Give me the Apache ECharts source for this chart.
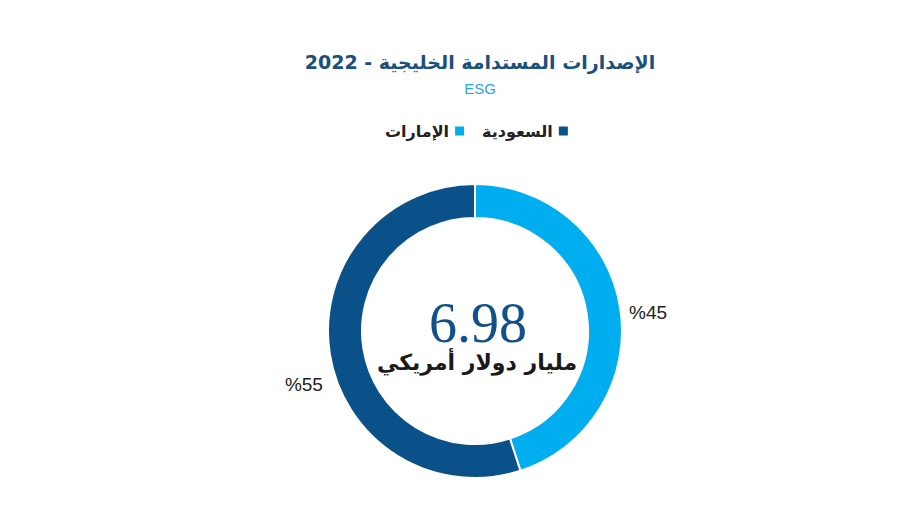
<!DOCTYPE html>
<html lang="ar">
<head>
<meta charset="utf-8">
<script src="https://cdn.jsdelivr.net/npm/echarts@6/dist/echarts.min.js"></script>
<style>
  html, body { margin: 0; padding: 0; background: #fff; }
  #chart { width: 900px; height: 507px; }
</style>
</head>
<body>
<div id="chart"></div>
<script>
// data
const countries = ["الإمارات", "السعودية"];
const shares = [45, 55];
const sliceColors = ["#00adef", "#0b5189"];
const totalValue = "6.98";
const totalUnit = "مليار دولار أمريكي";

const ARABIC_FONT = "DejaVu Sans";
const CX = 475;
const CY = 331;

const chart = echarts.init(document.getElementById("chart"), null, {
  renderer: "svg",
  width: 900,
  height: 507
});

chart.setOption({
  animation: false,
  title: [
    {
      text: "الإصدارات المستدامة الخليجية - 2022",
      left: CX,
      top: 47,
      textAlign: "center",
      textStyle: { fontFamily: ARABIC_FONT, fontSize: 19, fontWeight: "bold", color: "#1b4f7c" }
    },
    {
      text: "ESG",
      left: CX,
      top: 76,
      textAlign: "center",
      textStyle: { fontFamily: "Liberation Sans", fontSize: 15, fontWeight: "normal", color: "#2aa6df" }
    },
    {
      text: totalValue,
      left: CX - 2,
      top: 290,
      textAlign: "center",
      textStyle: { fontFamily: "Liberation Serif", fontSize: 56, fontWeight: "normal", color: "#12508a" }
    },
    {
      text: totalUnit,
      left: CX - 3,
      top: 346,
      textAlign: "center",
      textStyle: { fontFamily: ARABIC_FONT, fontSize: 22, fontWeight: "bold", color: "#1a1a1a" }
    }
  ],
  legend: {
    data: countries,
    left: 380,
    top: 118,
    align: "right",
    itemWidth: 11,
    itemHeight: 11,
    itemGap: 16,
    icon: "rect",
    textStyle: { fontFamily: ARABIC_FONT, fontSize: 16, fontWeight: "bold", color: "#222" }
  },
  series: [
    {
      type: "pie",
      center: [CX, CY],
      radius: [113, 147],
      startAngle: 90,
      clockwise: true,
      avoidLabelOverlap: false,
      itemStyle: { borderColor: "#fff", borderWidth: 2 },
      label: {
        show: true,
        position: "outside",
        formatter: (p) => "%" + p.value,
        fontFamily: "Liberation Sans",
        fontSize: 19,
        color: "#222"
      },
      labelLine: { show: false, length: 8, length2: 0 },
      labelLayout: (params) => (params.dataIndex === 0 ? { dx: -4, dy: 6 } : { dx: 6, dy: 29 }),
      data: countries.map((name, i) => ({
        name,
        value: shares[i],
        itemStyle: { color: sliceColors[i] }
      }))
    }
  ]
});
</script>
</body>
</html>
